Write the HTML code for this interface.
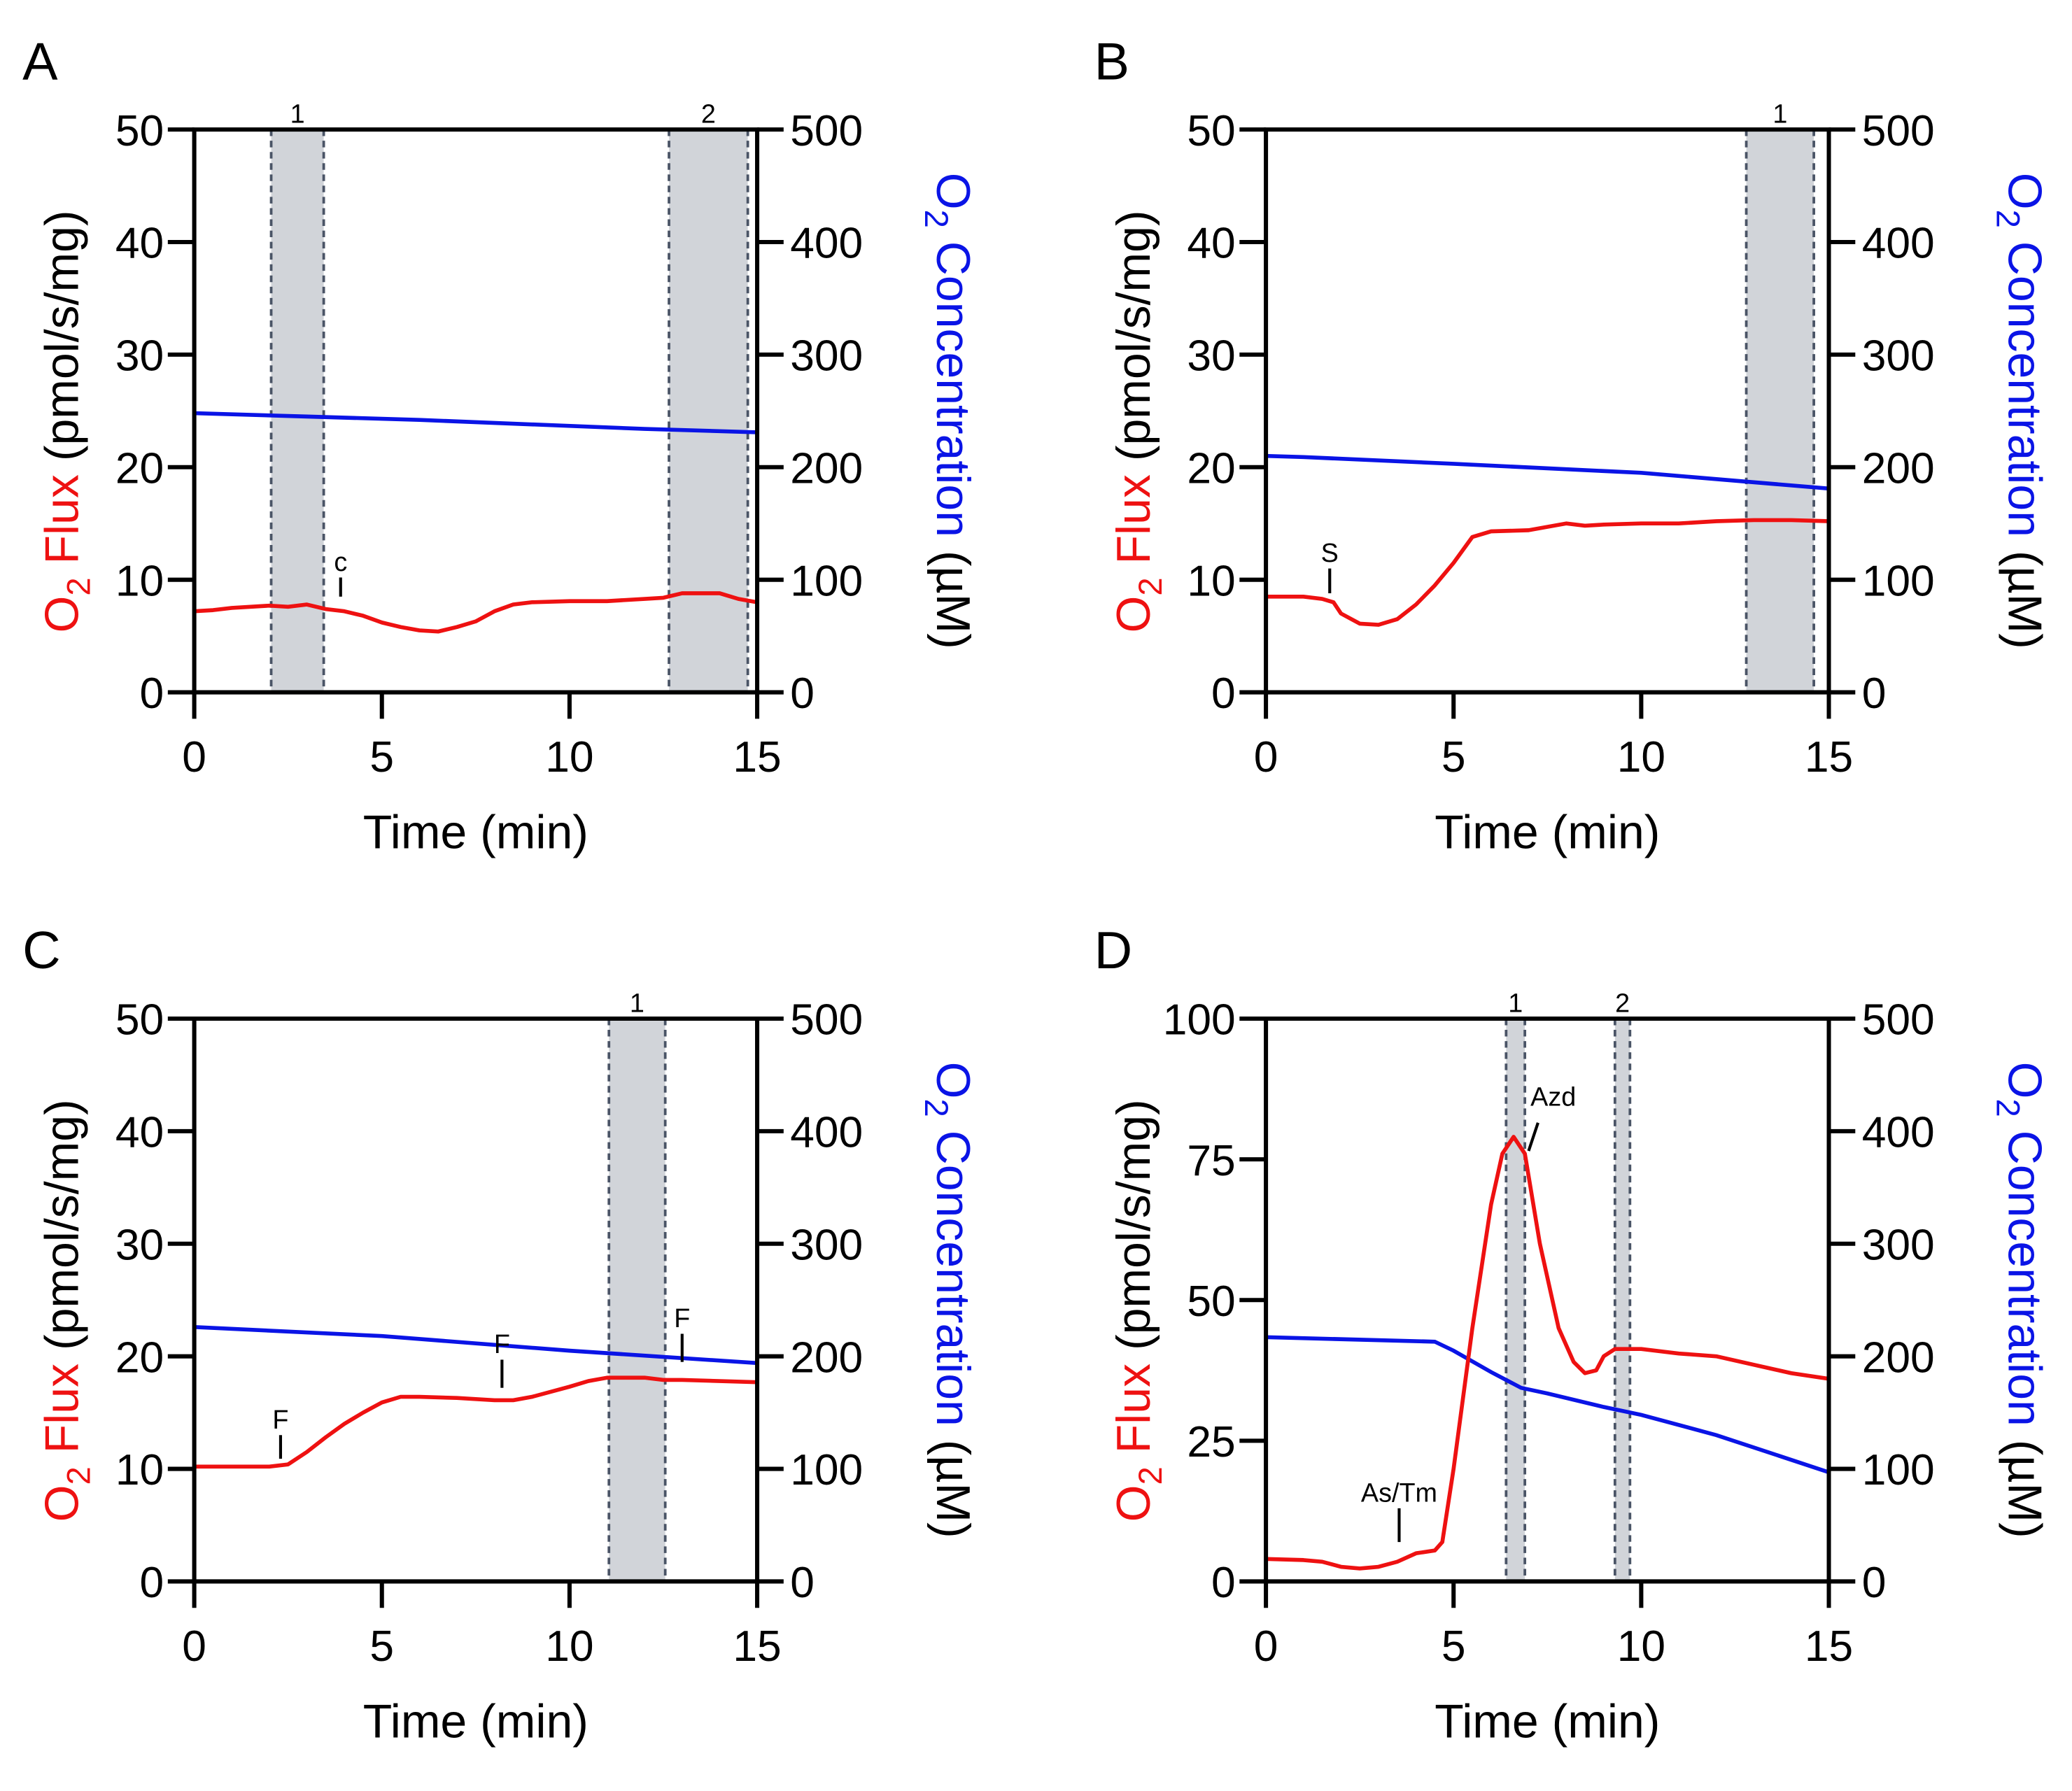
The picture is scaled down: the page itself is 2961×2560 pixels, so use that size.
<!DOCTYPE html>
<html><head><meta charset="utf-8"><style>
html,body{margin:0;padding:0;background:#fff;}
svg{display:block;font-family:"Liberation Sans",Arial,sans-serif;}
</style></head><body>
<svg id="fig" width="2961" height="2560" viewBox="0 0 1568 1355.6" xmlns="http://www.w3.org/2000/svg"></svg>
<script>
// ---- Panel A data ----
const aFluxT=[0,0.5,1,2,2.5,3,3.5,4,4.5,5,5.5,6,6.5,7,7.5,8,8.5,9,10,11,12,12.5,13,14,14.5,15];
const aFluxV=[7.2,7.3,7.5,7.7,7.6,7.8,7.4,7.2,6.8,6.2,5.8,5.5,5.4,5.8,6.3,7.2,7.8,8.0,8.1,8.1,8.3,8.4,8.8,8.8,8.3,8.0];
const aConcT=[0,3,6,9,12,15];
const aConcV=[248,245,242,238,234,231];
// ---- Panel B data ----
const bFluxT=[0,1,1.5,1.8,2,2.5,3,3.5,4,4.5,5,5.5,6,7,8,8.5,9,10,11,12,13,14,15];
const bFluxV=[8.5,8.5,8.3,8.0,7.0,6.1,6.0,6.5,7.8,9.5,11.5,13.8,14.3,14.4,15.0,14.8,14.9,15.0,15.0,15.2,15.3,15.3,15.2];
const bConcT=[0,1,5,10,15];
const bConcV=[210,209,203,195,181];
// ---- Panel C data ----
const cFluxT=[0,1,2,2.5,3,3.5,4,4.5,5,5.5,6,7,8,8.5,9,10,10.5,11,12,12.5,13,14,15];
const cFluxV=[10.2,10.2,10.2,10.4,11.5,12.8,14,15,15.9,16.4,16.4,16.3,16.1,16.1,16.4,17.3,17.8,18.1,18.1,17.9,17.9,17.8,17.7];
const cConcT=[0,5,10,15];
const cConcV=[226,218,205,194];
// ---- Panel D data ----
const dFluxT=[0,1,1.5,2,2.5,3,3.5,4,4.5,4.7,5,5.5,6,6.3,6.6,6.9,7.3,7.8,8.2,8.5,8.8,9,9.3,10,11,12,13,14,15];
const dFluxV=[4,3.8,3.5,2.6,2.3,2.6,3.5,5,5.5,7,20,45,67,76,79,76,60,45,39,37,37.5,40,41.3,41.3,40.5,40,38.5,37,36];
const dConcT=[0,4.5,5,6,6.8,7.5,9,10,12,15];
const dConcV=[217,213,205,186,172,167,155,148,130,97];
// ticks
const xTicks=[0,5,10,15];
const concTicks=[0,100,200,300,400,500];
const flux50Ticks=[0,10,20,30,40,50];
const flux100Ticks=[0,25,50,75,100];

const NS="http://www.w3.org/2000/svg";
const svg=document.getElementById('fig');
function mk(tag,attrs,parent){const e=document.createElementNS(NS,tag);for(const k in attrs)e.setAttribute(k,attrs[k]);(parent||svg).appendChild(e);return e;}

const panels=[
 {id:'a',letter:'A',L:147,T:98,fmax:50,fticks:flux50Ticks,ft:aFluxT,fv:aFluxV,ct:aConcT,cv:aConcV,
  shades:[[2.05,3.45,'1'],[12.65,14.75,'2']],marks:[{t:3.9,v1:8.5,v2:10.2,txt:'c'}]},
 {id:'b',letter:'B',L:958,T:98,fmax:50,fticks:flux50Ticks,ft:bFluxT,fv:bFluxV,ct:bConcT,cv:bConcV,
  shades:[[12.8,14.6,'1']],marks:[{t:1.7,v1:8.8,v2:11,txt:'S'}]},
 {id:'c',letter:'C',L:147,T:771,fmax:50,fticks:flux50Ticks,ft:cFluxT,fv:cFluxV,ct:cConcT,cv:cConcV,
  shades:[[11.05,12.55,'1']],marks:[{t:2.3,v1:10.9,v2:13,txt:'F'},{t:8.2,v1:17.2,v2:19.7,txt:'F'},{t:13,v1:19.5,v2:22,txt:'F'}]},
 {id:'d',letter:'D',L:958,T:771,fmax:100,fticks:flux100Ticks,ft:dFluxT,fv:dFluxV,ct:dConcT,cv:dConcV,
  shades:[[6.4,6.9,'1'],[9.3,9.7,'2']],marks:[{t:3.55,v1:7,v2:13,txt:'As/Tm'}],azd:true}
];
const W=426,H=426;

panels.forEach(p=>{
 const g=mk('g',{});
 
 
 const X=t=>p.L+t/15*W;
 const YF=v=>p.T+H-v/p.fmax*H;
 const YC=v=>p.T+H-v/500*H;
 const lt=mk('text',{x:p.L-130,y:p.T-38,'font-size':40},g);lt.textContent=p.letter;
 
 
 p.shades.forEach((s,i)=>{
  const r=mk('rect',{x:X(s[0]),y:p.T,width:X(s[1])-X(s[0]),height:H,fill:'#d1d4d9'},g);
  
  
  [s[0],s[1]].forEach(t=>{const l=mk('line',{x1:X(t),x2:X(t),y1:p.T,y2:p.T+H,stroke:'#4a5466','stroke-width':2,'stroke-dasharray':'5,3.5'},g);
   
   });
  const tl=mk('text',{x:X((s[0]+s[1])/2),y:p.T-5,'font-size':20,'text-anchor':'middle'},g);tl.textContent=s[2];
  
  
 });
 const cp=mk('polyline',{points:p.ct.map((t,i)=>X(t)+','+YC(p.cv[i])).join(' '),fill:'none',stroke:'#0a14e6','stroke-width':3},g);
 
 
 const fp=mk('polyline',{points:p.ft.map((t,i)=>X(t)+','+YF(p.fv[i])).join(' '),fill:'none',stroke:'#ee1111','stroke-width':3,'stroke-linejoin':'round'},g);
 
 
 p.marks.forEach(m=>{
  const ml=mk('line',{x1:X(m.t),x2:X(m.t),y1:YF(m.v1),y2:YF(m.v2),stroke:'#000','stroke-width':2.2},g);
  
  
  const mt=mk('text',{x:X(m.t),y:YF(m.v2)-5,'font-size':20,'text-anchor':'middle'},g);mt.textContent=m.txt;
  
  
 });
 if(p.azd){
  const al=mk('line',{x1:X(7.0),y1:YF(76.5),x2:X(7.25),y2:YF(81.5),stroke:'#000','stroke-width':2.2},g);
  
  
  const at=mk('text',{x:X(7.05),y:YF(84.5),'font-size':20},g);at.textContent='Azd';
  
  
 }
 const ax=mk('path',{d:`M${p.L},${p.T}H${p.L+W}V${p.T+H}H${p.L}Z`,fill:'none',stroke:'#000','stroke-width':3.2},g);
 
 
 xTicks.forEach(t=>{
  mk('line',{x1:X(t),x2:X(t),y1:p.T+H,y2:p.T+H+20,stroke:'#000','stroke-width':3.2},g);
  const tx=mk('text',{x:X(t),y:p.T+H+60,'font-size':33,'text-anchor':'middle'},g);tx.textContent=t;
  
  
 });
 p.fticks.forEach(v=>{
  mk('line',{x1:p.L-20,x2:p.L,y1:YF(v),y2:YF(v),stroke:'#000','stroke-width':3.2},g);
  const tx=mk('text',{x:p.L-23,y:YF(v)+12,'font-size':33,'text-anchor':'end'},g);tx.textContent=v;
  
  
 });
 concTicks.forEach(v=>{
  mk('line',{x1:p.L+W,x2:p.L+W+20,y1:YC(v),y2:YC(v),stroke:'#000','stroke-width':3.2},g);
  const tx=mk('text',{x:p.L+W+25,y:YC(v)+12,'font-size':33},g);tx.textContent=v;
  
  
 });
 const xt=mk('text',{x:p.L+W/2,y:p.T+H+118,'font-size':36,'text-anchor':'middle'},g);xt.textContent='Time (min)';
 
 
 const cy=p.T+H/2;
 const yl=mk('text',{transform:`translate(${p.L-88},${cy+8}) rotate(-90)`,'font-size':36,'text-anchor':'middle'},g);
 
 
 yl.innerHTML='<tspan fill="#ee1111">O<tspan font-size="25" dy="9">2</tspan><tspan dy="-9"> Flux</tspan></tspan><tspan fill="#000"> (pmol/s/mg)</tspan>';
 const yr=mk('text',{transform:`translate(${p.L+W+136},${cy}) rotate(90)`,'font-size':36,'text-anchor':'middle'},g);
 
 
 yr.innerHTML='<tspan fill="#0a14e6">O<tspan font-size="25" dy="9">2</tspan><tspan dy="-9"> Concentration</tspan></tspan><tspan fill="#000"> (µM)</tspan>';
});
</script>
</body></html>
